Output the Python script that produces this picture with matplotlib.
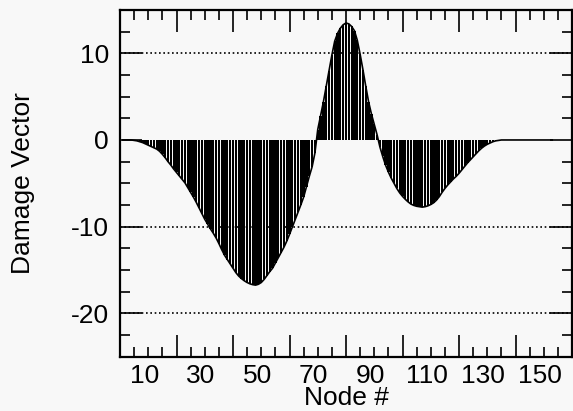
import matplotlib
matplotlib.use('Agg')
import matplotlib.pyplot as plt
from matplotlib.ticker import MultipleLocator, FixedLocator, FuncFormatter, NullFormatter
import matplotlib.transforms as mtransforms

# ---- data ----
nodes = list(range(1, 154))
damage = [
    0, 0, 0, 0,
    -0.05, -0.1, -0.2, -0.3, -0.45, -0.6, -0.75, -0.9, -1.05,
    -1.3, -1.65, -2.05, -2.5, -2.9, -3.35, -3.75, -4.15, -4.55, -4.95,
    -5.5, -6.05, -6.6, -7.2, -7.85, -8.5, -9.15, -9.7, -10.25, -10.75,
    -11.3, -11.95, -12.65, -13.3, -13.8, -14.3, -14.8, -15.3, -15.7, -16.0,
    -16.25, -16.45, -16.6, -16.7, -16.75, -16.65, -16.45, -16.1, -15.65, -15.2,
    -14.8, -14.2, -13.6, -13.0, -12.4, -11.7, -10.9, -10.05, -9.2, -8.35,
    -7.5, -6.6, -5.4, -4.2, -3.1, -1.5,
    1.2, 2.8, 4.4, 6.2, 8.0, 9.8, 11.4, 12.3, 12.9, 13.3,
    13.5, 13.4, 13.1, 12.6, 11.5, 9.9, 8.1, 6.2, 4.4, 3.0, 1.8, 0.6,
    -0.8, -1.9, -2.9, -3.7, -4.4, -5.0, -5.6, -6.1, -6.5, -6.85,
    -7.15, -7.4, -7.55, -7.65, -7.7, -7.75, -7.7, -7.6, -7.45, -7.25,
    -6.95, -6.55, -6.05, -5.6, -5.2, -4.85, -4.5, -4.2, -3.85, -3.45,
    -3.05, -2.65, -2.3, -1.95, -1.6, -1.25, -0.95, -0.7, -0.5, -0.35,
    -0.2, -0.1, -0.05,
    0, 0, 0, 0, 0, 0, 0, 0, 0, 0, 0, 0, 0, 0, 0, 0, 0, 0, 0,
]
assert len(damage) == len(nodes)

x_label_values = [10, 30, 50, 70, 90, 110, 130, 150]
y_label_values = [-20, -10, 0, 10]
grid_levels = [10, -10, -20]

plt.rcParams['font.family'] = ['Liberation Sans', 'DejaVu Sans']
plt.rcParams['axes.unicode_minus'] = False
bg = '#f8f8f8'
fs = 19

fig = plt.figure(figsize=(5.73, 4.11), dpi=100, facecolor=bg)
ax = fig.add_axes([120 / 573, 1 - 356.6 / 411, 452 / 573, (356.6 - 10) / 411])
ax.set_facecolor(bg)

for lv in grid_levels:
    ax.axhline(lv, color='black', lw=1.2, linestyle=(0, (1, 1.6)), zorder=1)

ax.bar(nodes, damage, width=0.8, color='black', linewidth=0, zorder=2)
ax.plot(nodes, damage, color='black', lw=1.2, zorder=3)

ax.set_xlim(0, 160)
ax.set_ylim(-25, 15)

ax.xaxis.set_major_locator(MultipleLocator(20))
ax.xaxis.set_major_formatter(NullFormatter())
ax.xaxis.set_minor_locator(MultipleLocator(5))
ax.xaxis.set_minor_formatter(FuncFormatter(
    lambda v, p: f"{int(round(v))}" if int(round(v)) in x_label_values else ""))

ax.yaxis.set_major_locator(FixedLocator(y_label_values))
ax.yaxis.set_minor_locator(MultipleLocator(2.5))

ax.tick_params(which='both', direction='in', top=True, right=True,
               width=1.2, colors='black', labelsize=fs)
ax.tick_params(which='major', length=16)
ax.tick_params(which='minor', length=7)
ax.tick_params(axis='x', which='both', pad=5)
ax.tick_params(axis='y', which='major', pad=8)

for sp in ax.spines.values():
    sp.set_linewidth(1.6)

ax.set_xlabel('Node #', fontsize=fs, labelpad=-1)
ax.set_ylabel('Damage Vector', fontsize=fs, labelpad=26)

# shift x tick labels slightly left as in the original
offset = mtransforms.ScaledTranslation(-4.0 / 100, 0, fig.dpi_scale_trans)
for lbl in ax.xaxis.get_minorticklabels():
    lbl.set_transform(lbl.get_transform() + offset)

fig.savefig('out.png', dpi=100, facecolor=bg)
